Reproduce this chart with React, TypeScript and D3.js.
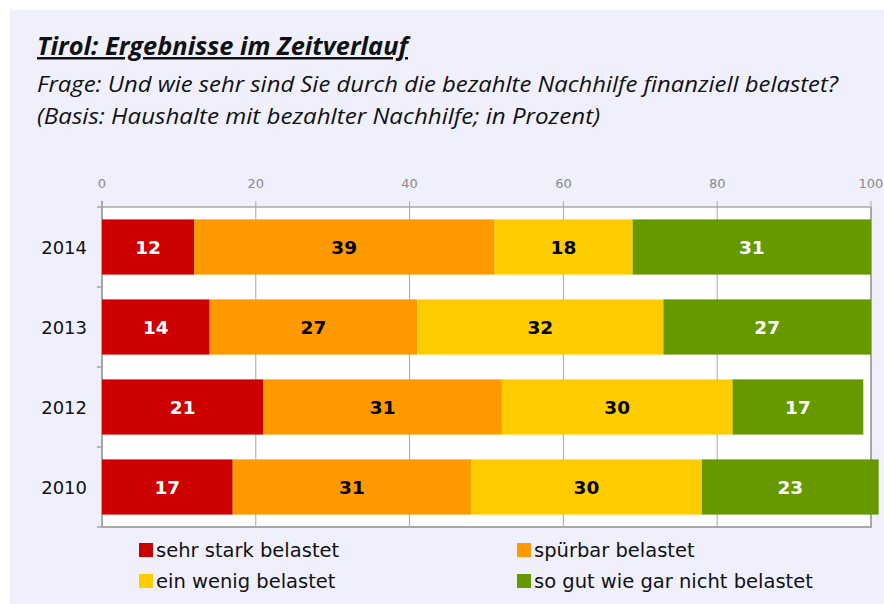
import React from "react";
import * as d3 from "d3";

// data
const years = ["2014", "2013", "2012", "2010"];
const sehrStark = [12, 14, 21, 17];
const spuerbar = [39, 27, 31, 31];
const wenig = [18, 32, 30, 30];
const garNicht = [31, 27, 17, 23];
const seriesNames = ["sehr stark belastet", "spürbar belastet", "ein wenig belastet", "so gut wie gar nicht belastet"];
const seriesColors = ["#CC0000", "#FF9900", "#FFCC00", "#669900"];
const labelColors = ["#FFFFFF", "#000000", "#000000", "#FFFFFF"];
const xTicks = [0, 20, 40, 60, 80, 100];

const W = 884;
const H = 604;
const plot = { left: 102, right: 871, top: 207, bottom: 527 };

export default function App() {
  const series = [sehrStark, spuerbar, wenig, garNicht];
  const x = d3.scaleLinear().domain([0, 100]).range([plot.left, plot.right]);
  const y = d3.scaleBand().domain(years).range([plot.top, plot.bottom]).paddingInner(0.31).paddingOuter(0.155);

  const rows = years.map((yr, i) => {
    let acc = 0;
    return series.map((s, k) => {
      const v = s[i];
      const seg = { k, v, x0: acc, x1: acc + v };
      acc += v;
      return seg;
    });
  });

  const bandStep = (plot.bottom - plot.top) / years.length;
  const font = "'DejaVu Sans', Verdana, sans-serif";
  const titleFont = "'Open Sans', 'Noto Sans', sans-serif";

  return (
    <svg width={W} height={H} style={{ display: "block", position: "absolute", left: 0, top: 0 }}>
      <rect x={10} y={10} width={W - 10} height={H - 10} fill="#F0F0FD" />

      <text x={37} y={55} fontFamily={titleFont} fontStyle="italic" fontWeight="bold" fontSize={25} fill="#111"
        textDecoration="underline" textLength={371} lengthAdjust="spacingAndGlyphs">
        Tirol: Ergebnisse im Zeitverlauf
      </text>
      <text x={37} y={92} fontFamily={titleFont} fontStyle="italic" fontSize={22} fill="#111"
        textLength={801} lengthAdjust="spacingAndGlyphs">
        Frage: Und wie sehr sind Sie durch die bezahlte Nachhilfe finanziell belastet?
      </text>
      <text x={37} y={124} fontFamily={titleFont} fontStyle="italic" fontSize={22} fill="#111"
        textLength={563} lengthAdjust="spacingAndGlyphs">
        (Basis: Haushalte mit bezahlter Nachhilfe; in Prozent)
      </text>

      {/* plot area */}
      <rect x={plot.left} y={plot.top} width={plot.right - plot.left} height={plot.bottom - plot.top} fill="#FFFFFF" />
      {xTicks.map((t) => (
        <g key={t}>
          <line x1={x(t)} x2={x(t)} y1={plot.top - 6} y2={plot.bottom} stroke="#A8A8A8" strokeWidth={1} />
          <text x={x(t)} y={188} textAnchor="middle" fontFamily={font} fontSize={13} fill="#8A8A8A">
            {t}
          </text>
        </g>
      ))}
      <line x1={plot.left} x2={plot.right} y1={plot.top} y2={plot.top} stroke="#A8A8A8" strokeWidth={1.5} />
      <line x1={plot.left} x2={plot.right + 1} y1={plot.bottom} y2={plot.bottom} stroke="#A8A8A8" strokeWidth={2} />
      <line x1={plot.right} x2={plot.right} y1={plot.top} y2={plot.bottom} stroke="#A8A8A8" strokeWidth={2} />
      <line x1={plot.left} x2={plot.left} y1={plot.top - 6} y2={plot.bottom} stroke="#A8A8A8" strokeWidth={2} />
      {d3.range(years.length + 1).map((i) => (
        <line key={i} x1={plot.left - 5} x2={plot.left} y1={plot.top + i * bandStep} y2={plot.top + i * bandStep} stroke="#A8A8A8" strokeWidth={1.5} />
      ))}

      {rows.map((segs, i) => {
        const yr = years[i];
        const by = y(yr) as number;
        const bh = y.bandwidth();
        return (
          <g key={yr}>
            <text x={87} y={by + bh / 2 + 6.5} textAnchor="end" fontFamily={font} fontSize={18} fill="#111">
              {yr}
            </text>
            {segs.map((s) => (
              <g key={s.k}>
                <rect x={x(s.x0)} y={by} width={x(s.x1) - x(s.x0)} height={bh} fill={seriesColors[s.k]} />
                <text
                  x={(x(s.x0) + x(s.x1)) / 2}
                  y={by + bh / 2 + 6.5}
                  textAnchor="middle"
                  fontFamily={font}
                  fontWeight="bold"
                  fontSize={18.5}
                  fill={labelColors[s.k]}
                >
                  {s.v}
                </text>
              </g>
            ))}
          </g>
        );
      })}

      {/* legend */}
      {seriesNames.map((name, k) => {
        const col = k % 2;
        const row = Math.floor(k / 2);
        const lx = col === 0 ? 139 : 517;
        const ly = 543 + row * 31;
        return (
          <g key={name}>
            <rect x={lx} y={ly} width={14} height={14} fill={seriesColors[k]} />
            <text x={lx + 17} y={ly + 14} fontFamily={font} fontSize={19.5} fill="#111">
              {name}
            </text>
          </g>
        );
      })}
    </svg>
  );
}
